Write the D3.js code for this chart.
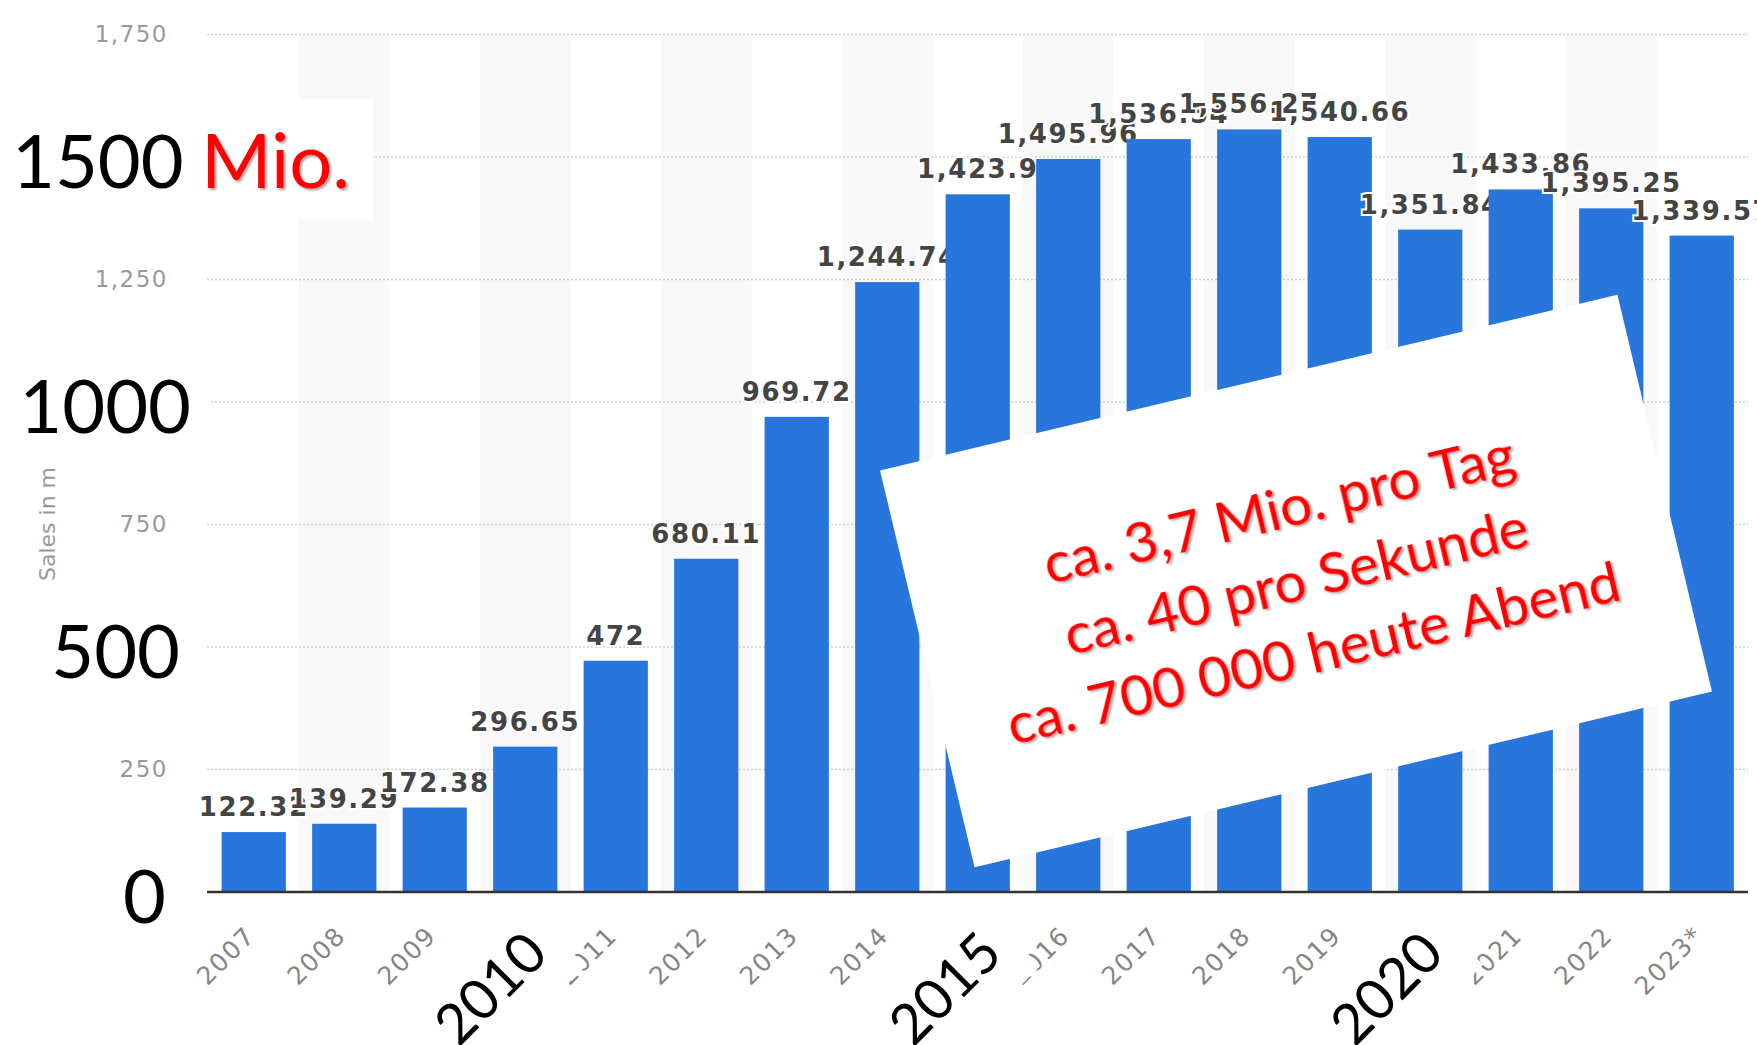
<!DOCTYPE html>
<html><head><meta charset="utf-8">
<script src="https://cdn.jsdelivr.net/npm/d3@7"></script>
<style>html,body{margin:0;padding:0;background:#fff;overflow:hidden}</style>
</head><body>
<svg id="c" width="1757" height="1045"></svg>
<script>
// ---------- data ----------
const categories = ["2007","2008","2009","2010","2011","2012","2013","2014","2015","2016","2017","2018","2019","2020","2021","2022","2023*"];
const sales = [122.32, 139.29, 172.38, 296.65, 472, 680.11, 969.72, 1244.74, 1423.9, 1495.96, 1536.54, 1556.27, 1540.66, 1351.84, 1433.86, 1395.25, 1339.57];
const yTicks = [0, 250, 500, 750, 1000, 1250, 1500, 1750];
const yAxisTitle = "Sales in m";
const bigYValues = [1500, 1000, 500, 0];
const bigYUnit = "Mio.";
const bigYears = ["2010", "2015", "2020"];
const noteLines = ["ca. 3,7 Mio. pro Tag", "ca. 40 pro Sekunde", "ca. 700 000 heute Abend"];

// ---------- layout ----------
const svg = d3.select("#c");
const plot = {left: 208.5, right: 1747, top: 34.5, bottom: 892};
const x = d3.scaleBand().domain(categories).range([plot.left, plot.right]).paddingInner(0.29).paddingOuter(0.145);
const y = d3.scaleLinear().domain([0, 1750]).range([plot.bottom, plot.top]);
const step = x.step();
const fmt = d3.format(",");

const defs = svg.append("defs");
defs.append("filter").attr("id", "sh").attr("x", "-10%").attr("y", "-20%").attr("width", "125%").attr("height", "150%")
  .append("feDropShadow").attr("dx", 2).attr("dy", 2).attr("stdDeviation", 1.3)
  .attr("flood-color", "#000").attr("flood-opacity", 0.35);

svg.append("rect").attr("width", 1757).attr("height", 1045).attr("fill", "#fff");

// alternating bands
svg.append("g").selectAll("rect").data(categories.filter((c, i) => i % 2 === 1)).join("rect")
  .attr("x", c => x(c) - x.paddingInner() * step / 2)
  .attr("width", step)
  .attr("y", y(1750)).attr("height", y(0) - y(1750))
  .attr("fill", "#f8f8f8");

// gridlines
svg.append("g").selectAll("line").data(yTicks.filter(t => t > 0)).join("line")
  .attr("x1", 207).attr("x2", 1748)
  .attr("y1", d => y(d)).attr("y2", d => y(d))
  .attr("stroke", "#cdcdcd").attr("stroke-width", 1.3).attr("stroke-dasharray", "2,2");

// y axis (ticks hidden under the big overlay numbers are not drawn)
const yAx = svg.append("g").attr("transform", "translate(207,0)")
  .call(d3.axisLeft(y).tickValues(yTicks.filter(t => !bigYValues.includes(t))).tickSize(0).tickPadding(39).tickFormat(fmt));
yAx.select(".domain").remove();
yAx.selectAll("text").attr("fill", "#999").style("font-family", "DejaVu Sans").style("font-size", "23px").style("letter-spacing", "1.5px");

svg.append("text").attr("transform", "translate(55,524) rotate(-90)")
  .attr("text-anchor", "middle").attr("fill", "#999")
  .style("font-family", "DejaVu Sans").style("font-size", "22px").text(yAxisTitle);

// bars + labels (interleaved)
const groups = svg.append("g").selectAll("g").data(categories.map((c, i) => ({c, v: sales[i]}))).join("g");
groups.append("rect")
  .attr("x", d => x(d.c)).attr("width", x.bandwidth())
  .attr("y", d => y(d.v)).attr("height", d => y(0) - y(d.v))
  .attr("fill", "#2876db");
groups.append("text")
  .attr("x", d => x(d.c) + x.bandwidth() / 2)
  .attr("y", d => y(d.v) - 16)
  .attr("text-anchor", "middle")
  .attr("fill", "#444").attr("stroke", "#fff").attr("stroke-width", 4).attr("paint-order", "stroke")
  .style("font-family", "DejaVu Sans").style("font-weight", "bold").style("font-size", "26px").style("letter-spacing", "1.6px")
  .text(d => fmt(d.v));

// x axis (labels hidden under the big year overlays are not drawn)
const xAx = svg.append("g").attr("transform", `translate(0,${y(0)})`)
  .call(d3.axisBottom(x).tickSize(0));
xAx.select(".domain").remove();
xAx.selectAll(".tick").filter(d => bigYears.includes(d)).select("text").remove();
xAx.selectAll("text").attr("x", 0).attr("y", 0).attr("dy", 0)
  .attr("transform", "translate(3,45) rotate(-45)")
  .style("text-anchor", "end").attr("fill", "#858585")
  .style("font-family", "DejaVu Sans").style("font-size", "25px").style("letter-spacing", "1.6px");

svg.append("line").attr("x1", 207).attr("x2", 1748).attr("y1", y(0)).attr("y2", y(0))
  .attr("stroke", "#333").attr("stroke-width", 2.6);

// ---------- overlays ----------
const ov = svg.append("g");
const bigFont = "Lato";
// 1500 Mio.
ov.append("rect").attr("x", 0).attr("y", y(bigYValues[0]) - 58).attr("width", 373).attr("height", 121).attr("fill", "#fff");
ov.append("text").attr("x", 12).attr("y", y(bigYValues[0]) + 31)
  .style("font-family", bigFont).style("font-size", "74px").attr("fill", "#000").text(bigYValues[0]);
ov.append("text").attr("x", 201).attr("y", y(bigYValues[0]) + 31)
  .style("font-family", bigFont).style("font-size", "76px").attr("fill", "#ff0000").attr("filter", "url(#sh)").text(bigYUnit);
// 1000, 500, 0
const bigYRight = [191, 180, 166];
const bigYBoxRight = [211, 205, 200];
bigYValues.slice(1).forEach((v, i) => {
  ov.append("rect").attr("x", 0).attr("y", y(v) - 40).attr("width", bigYBoxRight[i]).attr("height", 80).attr("fill", "#fff");
  ov.append("text").attr("x", bigYRight[i]).attr("y", y(v) + 31).attr("text-anchor", "end")
    .style("font-family", bigFont).style("font-size", "74px").attr("fill", "#000").text(v);
});
// big years with rotated white boxes
const yearShift = [-35, -33, -44];
const yearBoxEnd = [83, 83, 85];
bigYears.forEach((yr, i) => {
  const cx = x(yr) + x.bandwidth() / 2 + yearShift[i], cy = 988;
  const g = ov.append("g").attr("transform", `translate(${cx},${cy}) rotate(-45)`);
  g.append("rect").attr("x", -80).attr("y", -38).attr("width", 80 + yearBoxEnd[i]).attr("height", 90).attr("fill", "#fff");
  g.append("text").attr("x", 0).attr("y", 20).attr("text-anchor", "middle")
    .style("font-family", bigFont).style("font-size", "56px").attr("fill", "#000").text(yr);
});
// note box
const note = ov.append("g").attr("transform", "translate(1296,581) rotate(-13.4)");
note.append("rect").attr("x", -379).attr("y", -204).attr("width", 758).attr("height", 408).attr("fill", "#fff");
const nt = note.selectAll("text.n").data(noteLines).join("text").attr("class", "n")
  .attr("x", 0).attr("y", (d, i) => (i - 1) * 74 + 20)
  .attr("text-anchor", "middle").attr("fill", "#ff0000").attr("filter", "url(#sh)")
  .style("font-family", bigFont).style("font-size", "55px").text(d => d);
// fit font so the last line spans the measured width
const w3 = nt.nodes()[2].getComputedTextLength();
nt.style("font-size", (55 * 628 / w3) + "px");
</script>
</body></html>
